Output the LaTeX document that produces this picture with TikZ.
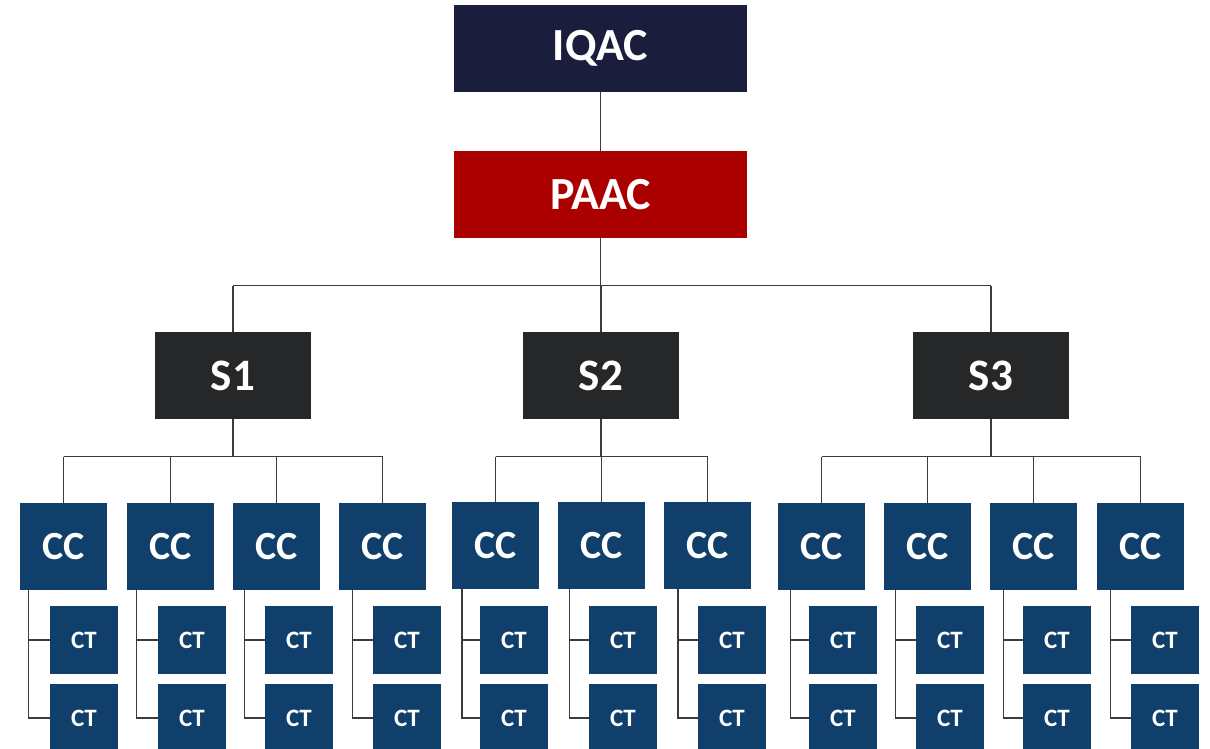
\documentclass[tikz,border=0pt]{standalone}
\usepackage{fontspec}
\setmainfont{Carlito}
\definecolor{iqacnavy}{HTML}{1B1D3D}
\definecolor{paacred}{HTML}{AA0000}
\definecolor{sdark}{HTML}{262729}
\definecolor{ccblue}{HTML}{0F3F6A}
\definecolor{linegray}{HTML}{3C3C3C}
\tikzset{
  boxbase/.style={inner sep=0pt, text=white, font=\bfseries},
  topbox/.style={boxbase, minimum width=293pt, minimum height=87pt, font=\bfseries\fontsize{46}{46}\selectfont},
  sbox/.style={boxbase, fill=sdark, minimum width=156pt, minimum height=87pt, font=\bfseries\fontsize{45}{45}\selectfont},
  ccbox/.style={boxbase, fill=ccblue, minimum width=87pt, minimum height=87pt, font=\bfseries\fontsize{40}{40}\selectfont},
  ctbox/.style={boxbase, fill=ccblue, minimum width=68pt, minimum height=68pt, font=\bfseries\fontsize{25}{25}\selectfont},
  conn/.style={draw=linegray, line width=1.5pt}
}
\begin{document}
\begin{tikzpicture}[x=1pt,y=-1pt]
\useasboundingbox (0,0) rectangle (1210,749);
\node[topbox, fill=iqacnavy] (iqac) at (600.5,48.5) {IQAC};
\node[topbox, fill=paacred] (paac) at (600.5,194.5) {PAAC};
\node[sbox] (s1) at (233,375.5) {S1};
\node[sbox] (s2) at (601,375.5) {S2};
\node[sbox] (s3) at (991,375.5) {S3};
\coordinate (tb) at (0,285.5);
\coordinate (bb) at (0,456.5);
\draw[conn] (iqac.south) -- (paac.north);
\draw[conn] (paac.south) -- (paac.south |- tb);
\draw[conn] (s1.north |- tb) -- (s3.north |- tb);
\foreach \s in {1,2,3} {\draw[conn] (s\s.north |- tb) -- (s\s.north);}
\foreach \i/\cx/\cy/\tx/\vx in {1/63.5/546.5/84/28.7, 2/170.5/546.5/192/136.7, 3/276.5/546.5/299/244.7, 4/382.5/546.5/407/352.7,
  5/495.5/545.5/514/462, 6/601.5/545.5/623/569.7, 7/707.5/545.5/732/678,
  8/821.5/546.5/843/790.3, 9/927.5/546.5/950/895.3, 10/1033.5/546.5/1057/1003.7, 11/1140.5/546.5/1165/1110.3} {
  \node[ccbox] (cc\i) at (\cx,\cy) {CC};
  \node[ctbox] (cta\i) at (\tx,640) {CT};
  \node[ctbox] (ctb\i) at (\tx,718) {CT};
  \coordinate (v\i) at (\vx,600);
  \draw[conn] (cc\i.south -| v\i) |- (ctb\i.west);
  \draw[conn] (v\i |- cta\i.west) -- (cta\i.west);
  \draw[conn] (cc\i.north |- bb) -- (cc\i.north);
}
\draw[conn] (s1.south) -- (s1.south |- bb);
\draw[conn] (s2.south) -- (s2.south |- bb);
\draw[conn] (s3.south) -- (s3.south |- bb);
\draw[conn] (cc1.north |- bb) -- (cc4.north |- bb);
\draw[conn] (cc5.north |- bb) -- (cc7.north |- bb);
\draw[conn] (cc8.north |- bb) -- (cc11.north |- bb);
\end{tikzpicture}
\end{document}
